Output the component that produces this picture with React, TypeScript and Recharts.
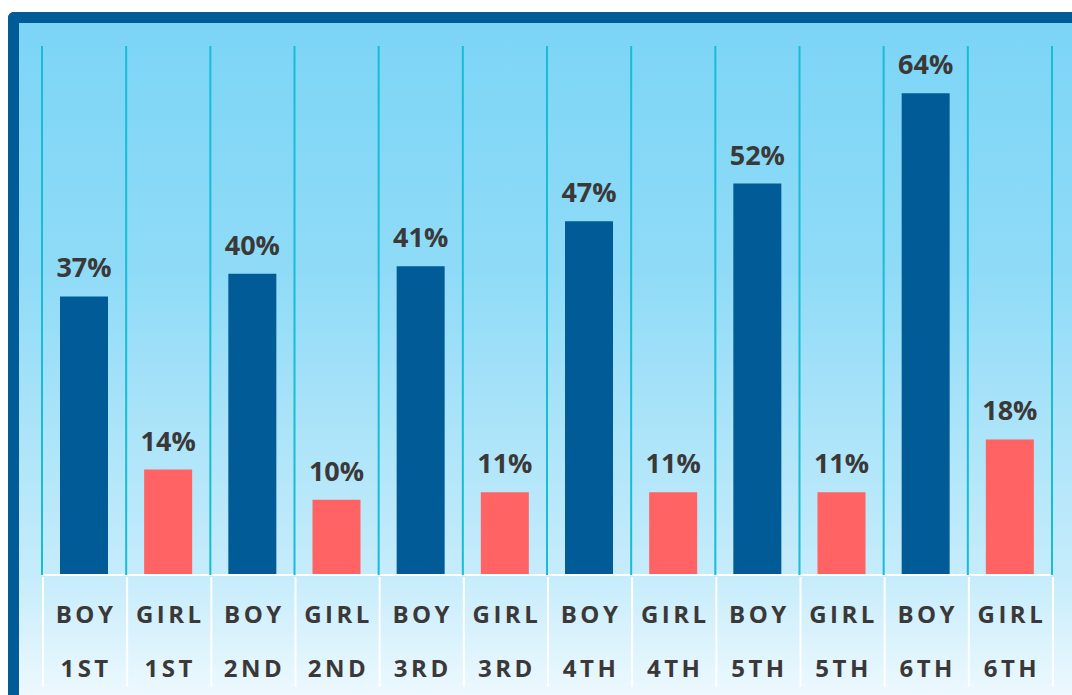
import { BarChart, Bar, XAxis, YAxis, Cell, LabelList } from "recharts";

const genders = ["BOY", "GIRL", "BOY", "GIRL", "BOY", "GIRL", "BOY", "GIRL", "BOY", "GIRL", "BOY", "GIRL"];
const grades = ["1ST", "1ST", "2ND", "2ND", "3RD", "3RD", "4TH", "4TH", "5TH", "5TH", "6TH", "6TH"];
const values = [37, 14, 40, 10, 41, 11, 47, 11, 52, 11, 64, 18];

const BOY_COLOR = "#005b96";
const GIRL_COLOR = "#ff6363";

const W = 1072;
const H = 695;
const AXIS_H = 120;
const M = { top: 48, right: 20, bottom: 0, left: 42 };
const plotW = W - M.left - M.right;
const plotH = H - M.top - AXIS_H;
const band = plotW / values.length;

const data = values.map((v, i) => ({
  name: genders[i] + " " + grades[i],
  gender: genders[i],
  grade: grades[i],
  value: v,
}));

const Tick = (props: any) => {
  const { x, y, index } = props;
  const d = data[index];
  const left = x - band / 2;
  const right = x + band / 2;
  const last = index === data.length - 1;
  const txt = {
    textAnchor: "middle" as const,
    fontFamily: "'Open Sans', sans-serif",
    fontWeight: 700,
    fontSize: 24,
    fill: "#3b3838",
    letterSpacing: 3.5,
  };
  return (
    <g>
      <line x1={left} x2={left} y1={y} y2={y - plotH - 2} stroke="#17bcd5" strokeWidth={2} />
      {last && <line x1={right} x2={right} y1={y} y2={y - plotH - 2} stroke="#17bcd5" strokeWidth={2} />}
      <line x1={left + 1} x2={left + 1} y1={y + 2} y2={y + 112} stroke="#ffffff" strokeWidth={2} />
      {last && <line x1={right + 1} x2={right + 1} y1={y + 2} y2={y + 112} stroke="#ffffff" strokeWidth={2} />}
      <text x={x + 2} y={y + 48} {...txt}>{d.gender}</text>
      <text x={x + 2} y={y + 102} {...txt}>{d.grade}</text>
    </g>
  );
};

export default function App() {
  return (
    <div style={{ position: "absolute", left: 0, top: 0, width: W, height: H, overflow: "hidden", background: "#fff" }}>
      <div
        style={{
          position: "absolute",
          left: 8,
          top: 12,
          width: 1120,
          height: 720,
          boxSizing: "border-box",
          borderTop: "11px solid #005b96",
          borderLeft: "11px solid #005b96",
          borderTopLeftRadius: 6,
          background: "linear-gradient(to bottom, #7cd5f6 0%, #8fdbf7 35%, #c6ecfb 78%, #f4fbff 98%)",
        }}
      />
      <div style={{ position: "absolute", left: 0, top: 0 }}>
        <BarChart width={W} height={H} data={data} margin={M} barSize={48}>
          <YAxis hide domain={[0, 70]} />
          <XAxis
            dataKey="name"
            axisLine={{ stroke: "#ffffff", strokeWidth: 2 }}
            tickLine={false}
            tickSize={0}
            tickMargin={0}
            height={AXIS_H}
            interval={0}
            tick={<Tick />}
          />
          <Bar dataKey="value" isAnimationActive={false}>
            {data.map((d, i) => (
              <Cell key={i} fill={d.gender === "BOY" ? BOY_COLOR : GIRL_COLOR} />
            ))}
            <LabelList
              dataKey="value"
              position="top"
              offset={19}
              formatter={(v: any) => `${v}%`}
              style={{ fontFamily: "'Open Sans', sans-serif", fontWeight: 700, fontSize: 27, fill: "#3b3838" }}
            />
          </Bar>
        </BarChart>
      </div>
    </div>
  );
}
